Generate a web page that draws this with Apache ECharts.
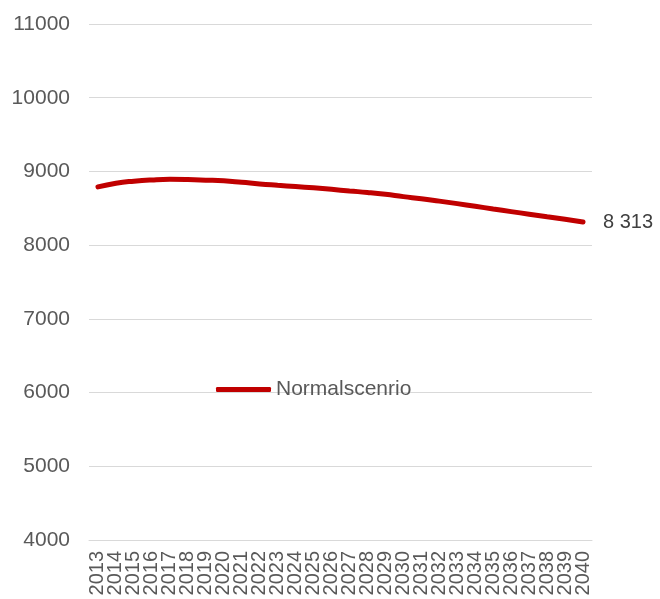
<!DOCTYPE html>
<html>
<head>
<meta charset="utf-8">
<script src="https://cdn.jsdelivr.net/npm/echarts@6/dist/echarts.min.js"></script>
<style>html,body{margin:0;padding:0;background:#fff}#c{width:660px;height:599px}</style>
</head>
<body>
<div id="c"></div>
<script>
var years = ['2013','2014','2015','2016','2017','2018','2019','2020','2021','2022','2023','2024','2025','2026','2027','2028','2029','2030','2031','2032','2033','2034','2035','2036','2037','2038','2039','2040'];
var normalscenario = [8790,8840,8868,8885,8893,8890,8882,8872,8852,8830,8812,8795,8777,8757,8735,8715,8690,8658,8630,8597,8563,8528,8490,8455,8420,8385,8350,8313];
var seriesName = 'Normalscenrio';
var yMin = 4000, yMax = 11000, yStep = 1000;

var chart = echarts.init(document.getElementById('c'), null, {renderer: 'canvas'});
var font = '"Liberation Sans", Arial, sans-serif';
chart.setOption({
  animation: false,
  grid: {left: 89, right: 68, top: 24, bottom: 59, containLabel: false},
  legend: {
    data: [{name: seriesName, icon: 'roundRect'}],
    left: 211, top: 374,
    itemWidth: 55, itemHeight: 5,
    itemStyle: {color: '#c00000', borderWidth: 0},
    textStyle: {color: '#595959', fontSize: 21, fontFamily: font}
  },
  xAxis: {
    type: 'category',
    data: years,
    boundaryGap: true,
    axisLine: {lineStyle: {color: '#d9d9d9', width: 1}},
    axisTick: {inside: true, length: 6, lineStyle: {color: '#d9d9d9'}},
    axisLabel: {rotate: 90, interval: 0, color: '#595959', fontSize: 20, fontFamily: font, margin: 11}
  },
  yAxis: {
    type: 'value',
    min: yMin, max: yMax, interval: yStep,
    axisLine: {show: false},
    axisTick: {show: false},
    splitLine: {lineStyle: {color: '#d9d9d9', width: 1}},
    axisLabel: {color: '#595959', fontSize: 21, fontFamily: font, margin: 19, formatter: function(v){ return String(v); }}
  },
  series: [{
    name: seriesName,
    type: 'line',
    data: normalscenario,
    smooth: true,
    symbol: 'none',
    lineStyle: {color: '#c00000', width: 5, cap: 'round'},
    itemStyle: {color: '#c00000'},
    endLabel: {
      show: true,
      formatter: function(p){ return '8 313'; },
      color: '#404040', fontSize: 20, fontFamily: font, distance: 20
    }
  }]
});
</script>
</body>
</html>
